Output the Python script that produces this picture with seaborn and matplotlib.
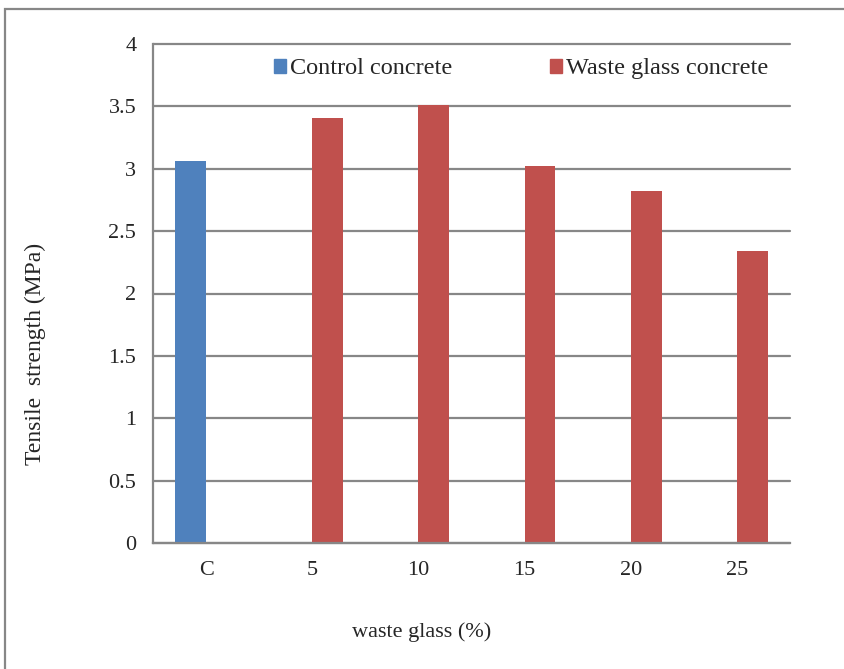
import pandas as pd
import numpy as np
import matplotlib.pyplot as plt
import seaborn as sns
from matplotlib.patches import Rectangle

# ------------------------------------------------------------
# Data
# ------------------------------------------------------------
categories = ["C", "5", "10", "15", "20", "25"]
groups = ["Control concrete", "Waste glass concrete",
          "Waste glass concrete", "Waste glass concrete",
          "Waste glass concrete", "Waste glass concrete"]
tensile = [3.06, 3.41, 3.51, 3.02, 2.82, 2.34]

series_names = ["Control concrete", "Waste glass concrete"]
series_colors = ["#4F81BD", "#C0504D"]

df = pd.DataFrame({"glass": categories, "group": groups, "strength": tensile})

sns.set_style("white")
plt.rcParams["font.family"] = ["Liberation Serif", "DejaVu Serif"]

grid_col = "#878787"

fig = plt.figure(figsize=(8.44, 6.69), dpi=100)
ax = fig.add_axes([153 / 844, 1 - 543 / 669, (790 - 153) / 844, (543 - 44) / 669])

sns.barplot(data=df, x="glass", y="strength", hue="group",
            order=categories, hue_order=series_names,
            palette=series_colors, dodge=True, width=0.58,
            saturation=1, errorbar=None, ax=ax, legend=False,
            edgecolor="none")

# ------------------------------------------------------------
# Axes styling
# ------------------------------------------------------------
ax.set_ylim(0, 4)
ax.set_xlim(-0.5, len(categories) - 0.5)
ax.set_yticks(np.arange(0, 4.01, 0.5))
ax.set_yticklabels(["0", "0.5", "1", "1.5", "2", "2.5", "3", "3.5", "4"])
ax.yaxis.grid(True, color=grid_col, linewidth=1.6)
for gl in ax.get_ygridlines():
    gl.set_clip_on(False)
ax.set_axisbelow(True)

ax.set_xticks(range(len(categories)))
ax.set_xticklabels(categories)
ax.set_xticks(np.arange(-0.5, len(categories), 1.0), minor=True)
ax.tick_params(axis="x", which="major", length=0, pad=13, labelsize=16)
ax.tick_params(axis="x", which="minor", length=5, width=1.6,
               color=grid_col, direction="out")
ax.tick_params(axis="y", length=6, width=1.6, color=grid_col,
               direction="out", labelsize=16, pad=6)

for side in ["top", "right"]:
    ax.spines[side].set_visible(False)
for side in ["left", "bottom"]:
    ax.spines[side].set_color(grid_col)
    ax.spines[side].set_linewidth(1.6)

ax.set_xlabel("")
ax.set_ylabel("")
fig.text(422 / 844, 1 - 632 / 669, "waste glass (%)", fontsize=16,
         ha="center", va="center")
fig.text(35 / 844, 1 - 354 / 669, "Tensile  strength (MPa)", fontsize=17,
         ha="center", va="center", rotation=90)

# Legend
handles = [Rectangle((0, 0), 1, 1, color=c) for c in series_colors]
ax.legend(handles, series_names, ncol=2, frameon=False, fontsize=17.5,
          loc="center left", bbox_to_anchor=(0.163, 0.95),
          handlelength=0.48, handleheight=0.48, handletextpad=0.2,
          columnspacing=4.0, borderpad=0.2)

# Outer chart border
fig.patches.append(Rectangle((5 / 844, -0.1), 1.2, 1 - 9 / 669 + 0.1,
                             transform=fig.transFigure, fill=False,
                             edgecolor=grid_col, linewidth=1.6))

fig.savefig("out.png", dpi=100)
